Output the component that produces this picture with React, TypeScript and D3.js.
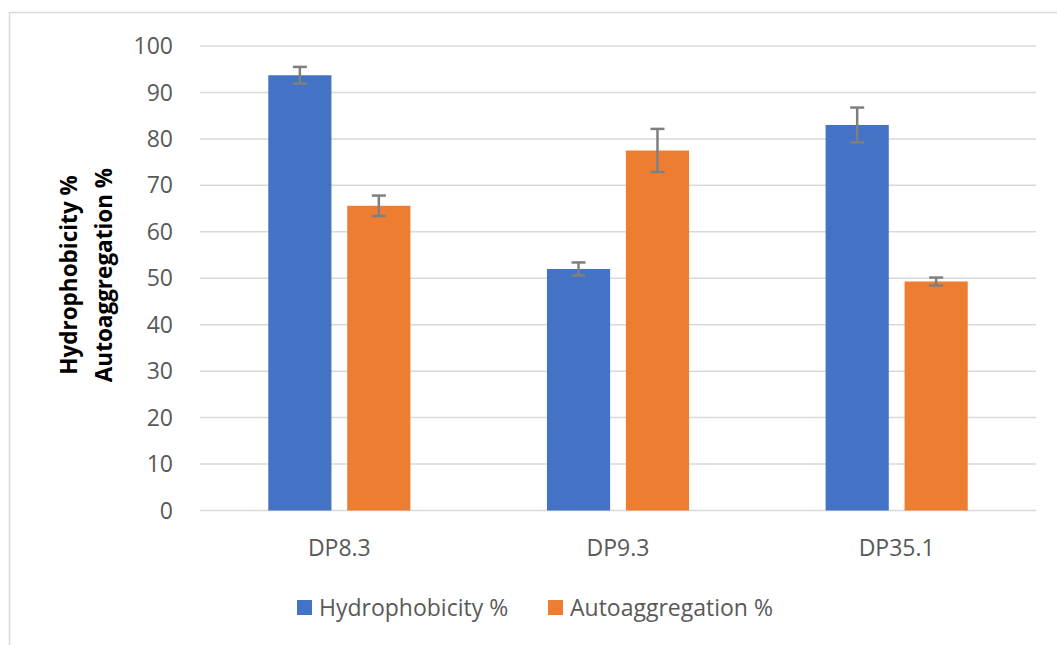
import React from 'react';
import * as d3 from 'd3';

const categories = ['DP8.3', 'DP9.3', 'DP35.1'];
const seriesNames = ['Hydrophobicity %', 'Autoaggregation %'];
const hydrophobicity = [93.7, 52.0, 83.0];
const hydrophobicityErr = [1.8, 1.4, 3.75];
const autoaggregation = [65.6, 77.5, 49.3];
const autoaggregationErr = [2.2, 4.65, 0.85];
const yTicks = [0, 10, 20, 30, 40, 50, 60, 70, 80, 90, 100];
const colors = ['#4472C4', '#ED7D31'];

const W = 1057;
const H = 645;
const margin = { top: 46, right: 21, bottom: 134.5, left: 200 };
const font = '"Open Sans", "Noto Sans", sans-serif';

const App = () => {
    const innerW = W - margin.left - margin.right;
    const innerH = H - margin.top - margin.bottom;

    const x0 = d3.scaleBand().domain(categories).range([0, innerW]).paddingInner(0.49).paddingOuter(0.245);
    const x1 = d3.scaleBand().domain(seriesNames).range([0, x0.bandwidth()]).paddingInner(0.2);
    const y = d3.scaleLinear().domain([0, 100]).range([innerH, 0]);

    const series = [
        { name: seriesNames[0], values: hydrophobicity, errs: hydrophobicityErr, color: colors[0] },
        { name: seriesNames[1], values: autoaggregation, errs: autoaggregationErr, color: colors[1] },
    ];

    const legendX = [297, 548];
    const titleY = 275;

    return (
        <svg width={W} height={H} style={{ position: 'absolute', left: 0, top: 0 }}>
            <rect x={9.5} y={12.5} width={1100} height={700} fill="#fff" stroke="#d9d9d9" strokeWidth={1.5} />
            <g transform={`translate(${margin.left},${margin.top})`}>
                {yTicks.map(t => (
                    <g key={t}>
                        <line x1={0} x2={innerW} y1={y(t)} y2={y(t)} stroke="#d9d9d9" strokeWidth={1.5} />
                        <text x={-27} y={y(t)} dy="0.35em" textAnchor="end" fontSize={23} fill="#595959" fontFamily={font}>{t}</text>
                    </g>
                ))}
                {categories.map((c, i) => (
                    <g key={c} transform={`translate(${x0(c)},0)`}>
                        {series.map(s => {
                            const bx = x1(s.name)!;
                            const cx = bx + x1.bandwidth() / 2;
                            const v = s.values[i];
                            const e = s.errs[i];
                            return (
                                <g key={s.name}>
                                    <rect x={bx} y={y(v)} width={x1.bandwidth()} height={innerH - y(v)} fill={s.color} />
                                    <line x1={cx} x2={cx} y1={y(v + e)} y2={y(v - e)} stroke="#7f7f7f" strokeWidth={2.5} />
                                    <line x1={cx - 7} x2={cx + 7} y1={y(v + e)} y2={y(v + e)} stroke="#7f7f7f" strokeWidth={2.5} />
                                    <line x1={cx - 7} x2={cx + 7} y1={y(v - e)} y2={y(v - e)} stroke="#7f7f7f" strokeWidth={2.5} />
                                </g>
                            );
                        })}
                        <text x={x0.bandwidth() / 2} y={innerH + 45} textAnchor="middle" fontSize={23} fill="#595959" fontFamily={font}>{c}</text>
                    </g>
                ))}
            </g>
            <text transform={`translate(69,${titleY}) rotate(-90)`} textAnchor="middle" fontSize={22.5} fontWeight="bold" fill="#000" fontFamily={font} dy="0.35em">{seriesNames[0]}</text>
            <text transform={`translate(104,${titleY}) rotate(-90)`} textAnchor="middle" fontSize={22.5} fontWeight="bold" fill="#000" fontFamily={font} dy="0.35em">{seriesNames[1]}</text>
            {series.map((s, i) => (
                <g key={s.name} transform={`translate(${legendX[i]},600)`}>
                    <rect x={0} y={0} width={15} height={15} fill={s.color} />
                    <text x={22} y={7.5} dy="0.35em" fontSize={23} fill="#595959" fontFamily={font}>{s.name}</text>
                </g>
            ))}
        </svg>
    );
};

export default App;
